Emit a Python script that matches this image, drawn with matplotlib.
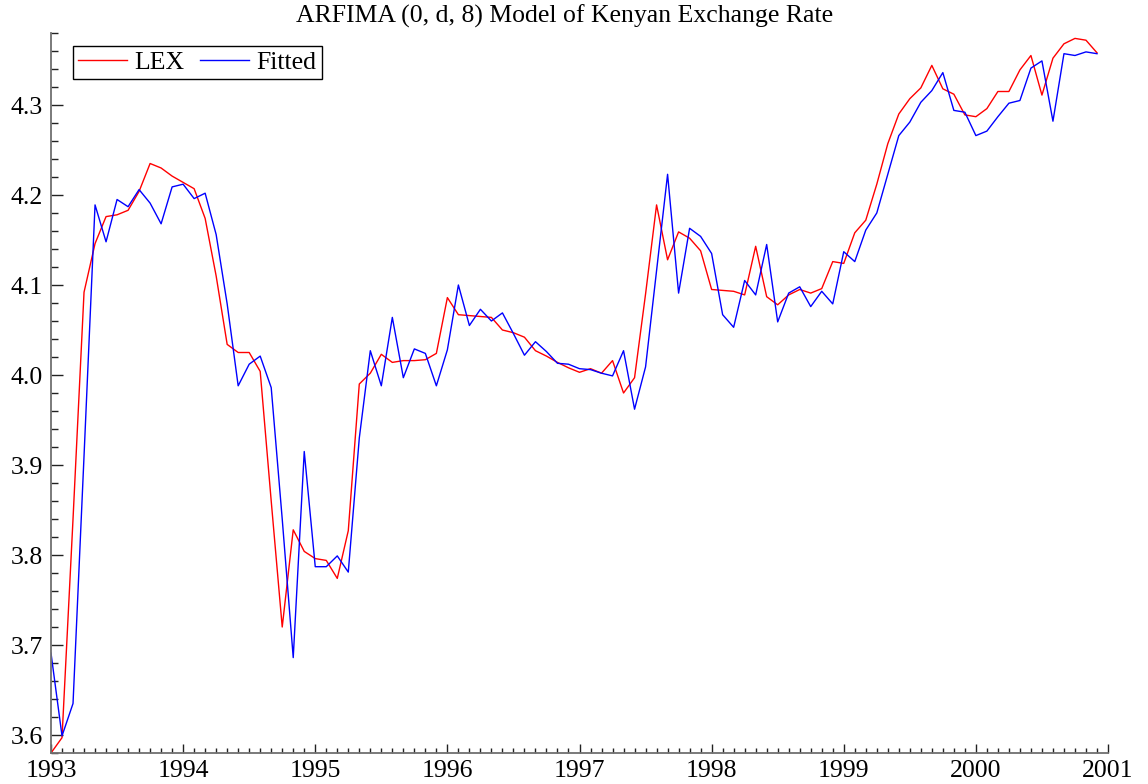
import numpy as np
import matplotlib
matplotlib.use("Agg")
import matplotlib.pyplot as plt
from matplotlib.ticker import MultipleLocator, FormatStrFormatter

# monthly data, 1993:1 - 2000:12
start_year = 1993
lex = [3.580, 3.597, 3.840, 4.092, 4.146, 4.176, 4.178, 4.183, 4.204, 4.235, 4.230, 4.221,
       4.214, 4.207, 4.174, 4.110, 4.034, 4.025, 4.025, 4.004, 3.860, 3.720, 3.828, 3.804,
       3.796, 3.794, 3.774, 3.827, 3.990, 4.002, 4.023, 4.014, 4.016, 4.016, 4.017, 4.024,
       4.086, 4.067, 4.066, 4.065, 4.064, 4.050, 4.047, 4.042, 4.027, 4.021, 4.014, 4.008,
       4.003, 4.007, 4.002, 4.016, 3.980, 3.997, 4.090, 4.189, 4.128, 4.159, 4.152, 4.138,
       4.095, 4.094, 4.093, 4.089, 4.143, 4.087, 4.078, 4.089, 4.095, 4.091, 4.096, 4.126,
       4.124, 4.158, 4.172, 4.212, 4.257, 4.290, 4.307, 4.319, 4.344, 4.318, 4.312, 4.289,
       4.287, 4.296, 4.315, 4.315, 4.339, 4.355, 4.311, 4.352, 4.368, 4.374, 4.372, 4.358]

fitted = [3.691, 3.599, 3.635, 3.910, 4.189, 4.148, 4.195, 4.187, 4.206, 4.191, 4.168, 4.209,
          4.212, 4.196, 4.202, 4.156, 4.079, 3.988, 4.012, 4.021, 3.986, 3.840, 3.686, 3.915,
          3.787, 3.787, 3.799, 3.781, 3.930, 4.027, 3.988, 4.064, 3.997, 4.029, 4.024, 3.988,
          4.028, 4.100, 4.055, 4.073, 4.060, 4.069, 4.046, 4.022, 4.037, 4.026, 4.013, 4.012,
          4.007, 4.006, 4.002, 3.999, 4.027, 3.962, 4.009, 4.116, 4.223, 4.091, 4.163, 4.154,
          4.135, 4.067, 4.053, 4.105, 4.089, 4.145, 4.059, 4.091, 4.098, 4.076, 4.093, 4.079,
          4.137, 4.126, 4.161, 4.180, 4.223, 4.266, 4.281, 4.303, 4.316, 4.336, 4.294, 4.292,
          4.266, 4.271, 4.287, 4.302, 4.305, 4.341, 4.349, 4.282, 4.357, 4.355, 4.359, 4.357]

t = start_year + np.arange(len(lex)) / 12.0

plt.rcParams['font.family'] = ['Liberation Serif', 'DejaVu Serif']
fs = 18.5

fig = plt.figure(figsize=(11.48, 7.84), dpi=100)
ax = fig.add_axes([51 / 1148, 1 - 753 / 784, (1108 - 51) / 1148, (753 - 33) / 784])

ax.plot(t, lex, color='#ff0000', lw=1.0, label='LEX')
ax.plot(t, fitted, color='#0000ff', lw=1.0, label='Fitted')

ax.set_xlim(1993, 2001)
ax.set_ylim(3.58, 4.38)

ax.xaxis.set_major_locator(MultipleLocator(1))
ax.xaxis.set_minor_locator(MultipleLocator(1 / 12))
ax.xaxis.set_major_formatter(FormatStrFormatter('%d'))
ax.yaxis.set_major_locator(MultipleLocator(0.1))
ax.yaxis.set_minor_locator(MultipleLocator(0.02))
ax.yaxis.set_major_formatter(FormatStrFormatter('%.1f'))

for s in ['top', 'right']:
    ax.spines[s].set_visible(False)
for s in ['left', 'bottom']:
    ax.spines[s].set_color('#707070')
    ax.spines[s].set_linewidth(1.3)

ax.tick_params(axis='y', which='major', direction='in', length=8.5, width=1.0,
               color='#222222', labelsize=fs, pad=6)
ax.tick_params(axis='y', which='minor', direction='in', length=5, width=1.0, color='#222222')
ax.tick_params(axis='x', which='major', direction='in', length=6.5, width=1.0,
               color='#222222', labelsize=fs, pad=5)
ax.tick_params(axis='x', which='minor', direction='in', length=3.3, width=1.0, color='#222222')

leg = ax.legend(loc='upper left', bbox_to_anchor=(0.0208, 0.982), ncol=2, fontsize=fs,
                frameon=True, fancybox=False, framealpha=1, edgecolor='black',
                borderaxespad=0, borderpad=0.2, handlelength=1.9, handletextpad=0.3,
                columnspacing=0.6)
leg.get_frame().set_linewidth(1.0)

fig.text(565 / 1148, 1 - 16 / 784, 'ARFIMA (0, d, 8) Model of Kenyan Exchange Rate',
         ha='center', va='center', fontsize=fs)

fig.savefig('out.png', dpi=100)
